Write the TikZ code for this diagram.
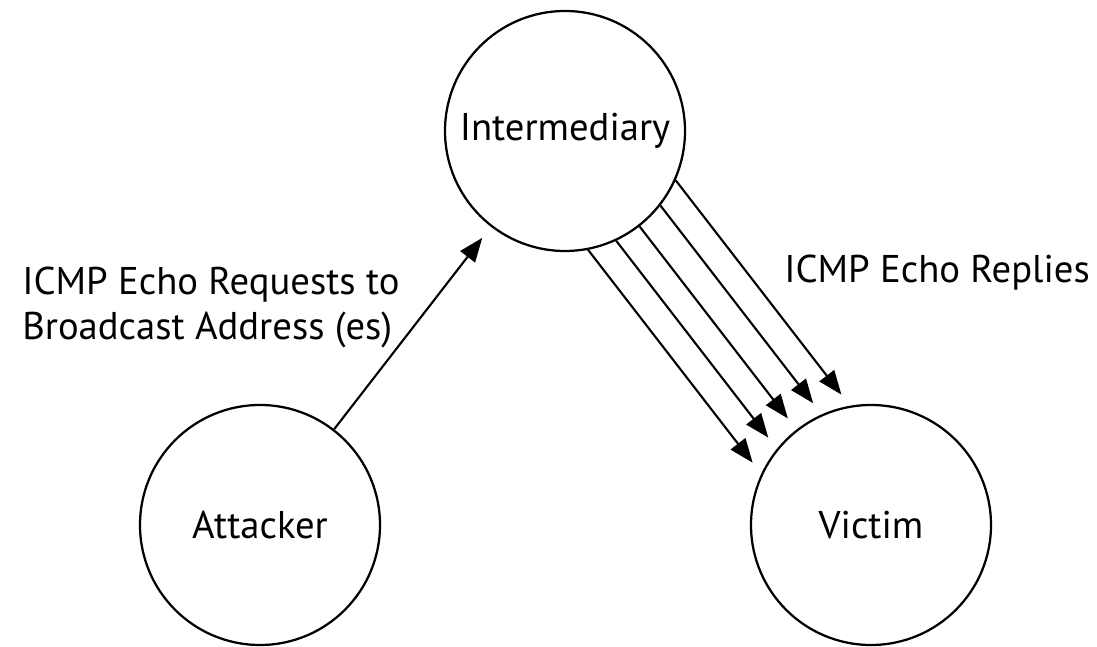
\documentclass[tikz,border=0pt]{standalone}
\usepackage{fontspec}
\setmainfont{PT Sans}
\usetikzlibrary{positioning,arrows.meta,calc}

\begin{document}
\begin{tikzpicture}[every node/.style={font=\fontsize{27.5}{32}\selectfont},
                    host/.style={draw,circle,line width=1.6pt,inner sep=0pt,
                                 minimum size=6cm},
                    flow/.style={-{Triangle[length=6mm,width=4.6mm]},
                                 line width=1.5pt,shorten >=3.5mm}]
  \useasboundingbox (0,0) rectangle (27.425,16.175);
  \node[host] (attacker) at (6.5,3.05)    {Attacker};
  \node[host] (inter)    at (14.125,12.9) {Intermediary};
  \node[host] (victim)   at (21.775,3.05) {Victim};

  \draw[flow] (attacker) -- (inter);
  \foreach \a in {-27.8,-13.5,0,13.5,27.8}
    \draw[flow] (inter.{-52+\a}) -- (victim.{128-\a});

  \node[anchor=north west,inner sep=0pt,align=left] (req) at (0.55,9.5)
    {ICMP Echo Requests to\\Broadcast Address (es)};
  \node[anchor=base west,inner sep=0pt] (rep) at (19.6,9.1) {ICMP Echo Replies};
\end{tikzpicture}
\end{document}
